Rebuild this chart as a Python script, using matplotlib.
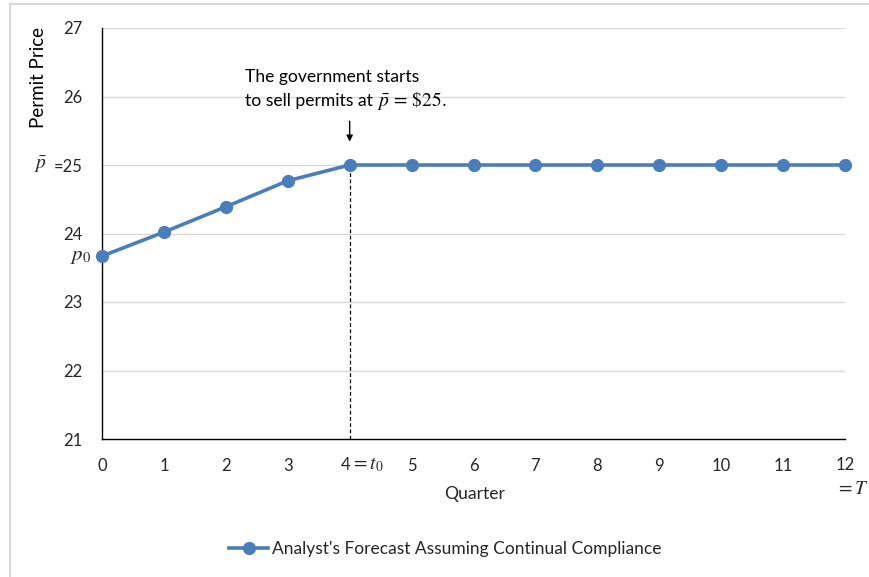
import matplotlib
matplotlib.use("Agg")
import matplotlib.pyplot as plt
from matplotlib.lines import Line2D
import matplotlib.transforms as mtransforms

plt.rcParams['font.family'] = ['Lato', 'DejaVu Sans']
plt.rcParams['mathtext.fontset'] = 'stix'

quarters = [0, 1, 2, 3, 4, 5, 6, 7, 8, 9, 10, 11, 12]
prices = [23.67, 24.02, 24.39, 24.77, 25, 25, 25, 25, 25, 25, 25, 25, 25]
yticks = [21, 22, 23, 24, 25, 26, 27]
ytick_labels = ['21', '22', '23', '24', '=25', '26', '27']
xtick_labels = ['0', '1', '2', '3', '', '5', '6', '7', '8', '9', '10', '11', '']
series_name = "Analyst's Forecast Assuming Continual Compliance"
t0 = 4

W, H = 869, 577
fig = plt.figure(figsize=(W / 100, H / 100), dpi=100)
ax = fig.add_axes([102 / W, 1 - 439 / H, (845 - 102) / W, (439 - 28) / H])
renderer = fig.canvas.get_renderer()

color = '#4a7ebb'
txtc = '#262626'
TS = 12
MS = 14


def seq_text(x_px, y_px, pieces, ha='left'):
    """Draw consecutive text pieces starting at pixel x (left) on one baseline-ish line."""
    arts = []
    x = x_px
    for s, size, dx in pieces:
        x += dx
        t = fig.text(x / W, 1 - y_px / H, s, ha='left', va='center', fontsize=size, color=txtc)
        bb = t.get_window_extent(renderer)
        x += bb.width
        arts.append(t)
    return arts


ax.set_xlim(0, 12)
ax.set_ylim(21, 27)
ax.set_yticks(yticks)
ax.set_yticklabels(ytick_labels)
ax.set_xticks(quarters)
ax.set_xticklabels(xtick_labels)
ax.tick_params(axis='both', length=0, labelsize=TS, colors=txtc)
ax.tick_params(axis='y', pad=14)
ax.tick_params(axis='x', pad=14)
for s in ['top', 'right']:
    ax.spines[s].set_visible(False)
for s in ['left', 'bottom']:
    ax.spines[s].set_color('black')
    ax.spines[s].set_linewidth(1.0)
ax.grid(axis='y', color='#d9d9d9', linewidth=1.0)
ax.set_axisbelow(True)

# dashed line at t0
ax.plot([t0, t0], [21, prices[t0]], color='black', linestyle=(0, (3, 2)), linewidth=0.9, zorder=2)

line, = ax.plot(quarters, prices, color=color, linewidth=2.6, marker='o', markersize=8.5,
                clip_on=False, zorder=3, label=series_name)

# p-bar before 25 tick
transy = mtransforms.blended_transform_factory(fig.transFigure, ax.transData)
ax.text(47 / W, 25, r'$\bar{p}$', transform=transy, ha='right', va='center', fontsize=MS, color=txtc)
# p0 label
ax.text(91 / W, prices[0], r'$p_0$', transform=transy, ha='right', va='center', fontsize=MS + 1, color=txtc)

# special x tick labels
seq_text(341, 465, [('4', TS, 0), (r'$=t_0$', MS, 0)])
trans = mtransforms.blended_transform_factory(ax.transData, fig.transFigure)
ax.text(12, 1 - 465 / H, '12', transform=trans, ha='center', va='center', fontsize=TS, color=txtc)
ax.text(12.12, 1 - 488 / H, r'$=T$', transform=trans, ha='center', va='center', fontsize=MS, color=txtc)

# annotation
ax.annotate('', xy=(t0, 25.3), xytext=(t0, 25.68),
            arrowprops=dict(arrowstyle='-|>', color='black', lw=1.0, mutation_scale=9))
t1 = fig.text(245 / W, 1 - 77 / H, 'The government starts', ha='left', va='center', fontsize=12.6, color='black')
a = seq_text(245, 101, [('to sell permits at', 12.6, 0), (r'$\bar{p}\,=\,\$25.$', MS, 4)])
for t in a:
    t.set_color('black')

fig.text(38 / W, 1 - 78 / H, 'Permit Price', rotation=90, ha='center', va='center', fontsize=13.5, color='black')
fig.text(475 / W, 1 - 494 / H, 'Quarter', ha='center', va='center', fontsize=12.6, color=txtc)

fig.legend(handles=[line], loc='center', bbox_to_anchor=(445 / W, 1 - 549 / H), frameon=False,
           fontsize=12.5, handlelength=2.3, handletextpad=0.2, labelcolor=txtc)

# chart border
fig.add_artist(Line2D([10 / W, 10 / W], [0, 1 - 4 / H], transform=fig.transFigure, color='#d9d9d9', lw=1.5))
fig.add_artist(Line2D([10 / W, 1], [1 - 4 / H, 1 - 4 / H], transform=fig.transFigure, color='#d9d9d9', lw=1.5))

fig.savefig('out.png', dpi=100)
